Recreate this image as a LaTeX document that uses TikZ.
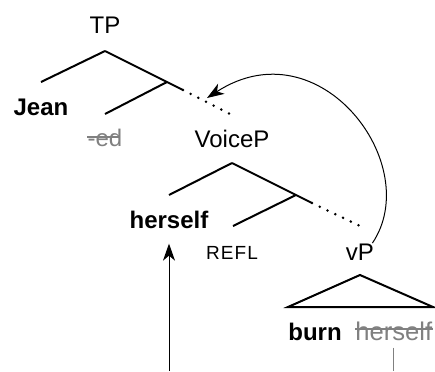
\documentclass[tikz,border=0pt]{standalone}
\usepackage{fontspec}
\setmainfont{Liberation Sans}
\usepackage{xcolor}
\usetikzlibrary{arrows.meta}

\begin{document}
\begin{tikzpicture}[x=0.5pt,y=-0.5pt,
  lbl/.style={font=\fontsize{12}{14}\selectfont,inner sep=0pt,anchor=base},
  gone/.style={text=black!50},
  strike/.style={draw=black!50,line width=0.7pt},
  branch/.style={line width=1pt},
  dots/.style={line width=1.4pt,line cap=round,dash pattern=on 0pt off 4.3pt},
  move/.style={line width=0.5pt,-{Stealth[length=8.5pt,width=6pt,inset=2.5pt]}}]
 \useasboundingbox (0,0) rectangle (435,371);
 % labels
 \node[lbl] (tp) at (105,33) {TP};
 \node[lbl] (jean) at (41,115) {\bfseries Jean};
 \node[lbl,gone] (ed) at (105,146) {-ed};
 \node[lbl] (voicep) at (232,147) {VoiceP};
 \node[lbl] (herself) at (169,228) {\bfseries herself};
 \node[lbl,font=\fontsize{9.5}{11}\selectfont\addfontfeature{LetterSpace=6}] (refl) at (232,259) {REFL};
 \node[lbl] (vp) at (360,260) {vP};
 \node[lbl,anchor=base west] (burn) at (288,340) {\bfseries burn};
 \node[lbl,gone,anchor=base west,font=\fontsize{12.8}{14}\selectfont] (copy) at (355,340) {herself};
 % struck-out copies
 \draw[strike] ([yshift=4.5pt]ed.base west) -- ([yshift=4.5pt,xshift=-2pt]ed.base east);
 \draw[strike] ([yshift=5.5pt]copy.base west) -- ([yshift=5.5pt]copy.base east);
 % TP layer
 \coordinate (tp-top) at (105,51);
 \coordinate (t-mid) at (167,82);
 \draw[branch] (tp-top) -- (41,82);
 \draw[branch] (tp-top) -- (183,90);
 \draw[dots] (183,90) -- (232,115);
 \draw[branch] (t-mid) -- (105,114);
 % VoiceP layer
 \coordinate (voice-top) at (232,163);
 \coordinate (v-mid) at (296,195);
 \draw[branch] (voice-top) -- (169,195);
 \draw[branch] (voice-top) -- (312,203);
 \draw[dots] (312,203) -- (360,226);
 \draw[branch] (v-mid) -- (233,226);
 % vP triangle
 \draw[branch,line join=miter] (360,275) -- (288,307) -- (433,307) -- cycle;
 % movement
 \coordinate (landing) at (207,98);
 \coordinate (src) at (169,371);
 \coordinate (sink) at (393,371);
 \draw[move] ([xshift=-1pt]vp.north east) .. controls (425,165) and (320,25) .. (landing);
 \draw[move,shorten >=7.5pt] (src) -- (herself);
 \draw[black!50,line width=0.6pt] ([yshift=-3.5pt]copy.south) -- (copy.south |- sink);
\end{tikzpicture}
\end{document}
